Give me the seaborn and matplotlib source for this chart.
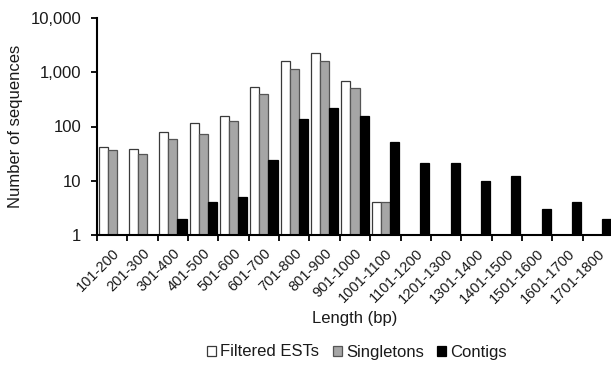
import pandas as pd
import matplotlib
matplotlib.use('Agg')
import matplotlib.pyplot as plt
import seaborn as sns
from matplotlib.patches import Patch
from matplotlib.ticker import FixedLocator, FuncFormatter, NullLocator

# Length bins
categories = ['101-200', '201-300', '301-400', '401-500', '501-600', '601-700',
              '701-800', '801-900', '901-1000', '1001-1100', '1101-1200',
              '1201-1300', '1301-1400', '1401-1500', '1501-1600', '1601-1700',
              '1701-1800']

# Counts (None = no bar)
filtered_ests = [42, 38, 78, 114, 158, 540, 1610, 2230, 700, 4,
                 None, None, None, None, None, None, None]
singletons = [37, 31, 59, 74, 128, 390, 1130, 1610, 506, 4,
              None, None, None, None, None, None, None]
contigs = [None, None, 2, 4, 5, 24, 139, 216, 156, 52,
           21, 21, 10, 12, 3, 4, 2]

series_names = ['Filtered ESTs', 'Singletons', 'Contigs']
y_ticks = [1, 10, 100, 1000, 10000]

rows = []
for name, vals in zip(series_names, [filtered_ests, singletons, contigs]):
    for cat, v in zip(categories, vals):
        rows.append({'Length': cat, 'Series': name, 'Count': v})
df = pd.DataFrame(rows)
df['Count'] = df['Count'].astype(float)

sns.set_style('white')
plt.rcParams['font.family'] = ['Liberation Sans', 'DejaVu Sans']

fills = ['white', '#a6a6a6', 'black']
edges = ['#3a3a3a', '#555555', 'black']
text_color = '#1a1a1a'

fig = plt.figure(figsize=(6.11, 3.65), dpi=100)
ax = fig.add_axes([97 / 611, 130 / 365, 516 / 611, 217 / 365])
ax.set_yscale('log')

sns.barplot(data=df, x='Length', y='Count', hue='Series', hue_order=series_names,
            order=categories, palette=fills, width=0.9, ax=ax, legend=False,
            err_kws={'linewidth': 0})

for cont, ec in zip(ax.containers, edges):
    for bar in cont:
        bar.set_edgecolor(ec)
        bar.set_linewidth(0.9)

ax.set_ylim(1, 10000)
ax.set_xlim(-0.5, len(categories) - 0.5)

# y axis
ax.yaxis.set_major_locator(FixedLocator(y_ticks))
ax.yaxis.set_minor_locator(NullLocator())
ax.yaxis.set_major_formatter(FuncFormatter(lambda v, p: f'{int(round(v)):,}'))
ax.tick_params(axis='y', which='major', direction='out', length=4.5, width=1.3,
               color='black', left=True, labelsize=12, pad=7, labelcolor=text_color)

# x axis: labels at centres, tick marks at bin boundaries
ax.set_xticks(range(len(categories)))
ax.set_xticklabels(categories, rotation=45, ha='right', rotation_mode='anchor')
ax.set_xticks([i - 0.5 for i in range(len(categories) + 1)], minor=True)
ax.tick_params(axis='x', which='major', length=0, labelsize=10.5, pad=8,
               labelcolor=text_color)
ax.tick_params(axis='x', which='minor', direction='out', length=4, width=1.3,
               color='black', bottom=True)

for side in ['top', 'right']:
    ax.spines[side].set_visible(False)
for side in ['left', 'bottom']:
    ax.spines[side].set_color('black')
    ax.spines[side].set_linewidth(1.5)

ax.set_xlabel('Length (bp)', fontsize=12, labelpad=4, color=text_color)
ax.set_ylabel('Number of sequences', fontsize=12, labelpad=5, color=text_color)

handles = [Patch(facecolor=f, edgecolor=e, linewidth=0.9) for f, e in zip(fills, edges)]
fig.legend(handles, series_names, loc='center', bbox_to_anchor=(357 / 611, 13 / 365),
           ncol=3, frameon=False, fontsize=12, handlelength=0.55, handleheight=0.55,
           handletextpad=0.25, columnspacing=0.8, borderaxespad=0,
           labelcolor=text_color)

fig.savefig('out.png', dpi=100)
